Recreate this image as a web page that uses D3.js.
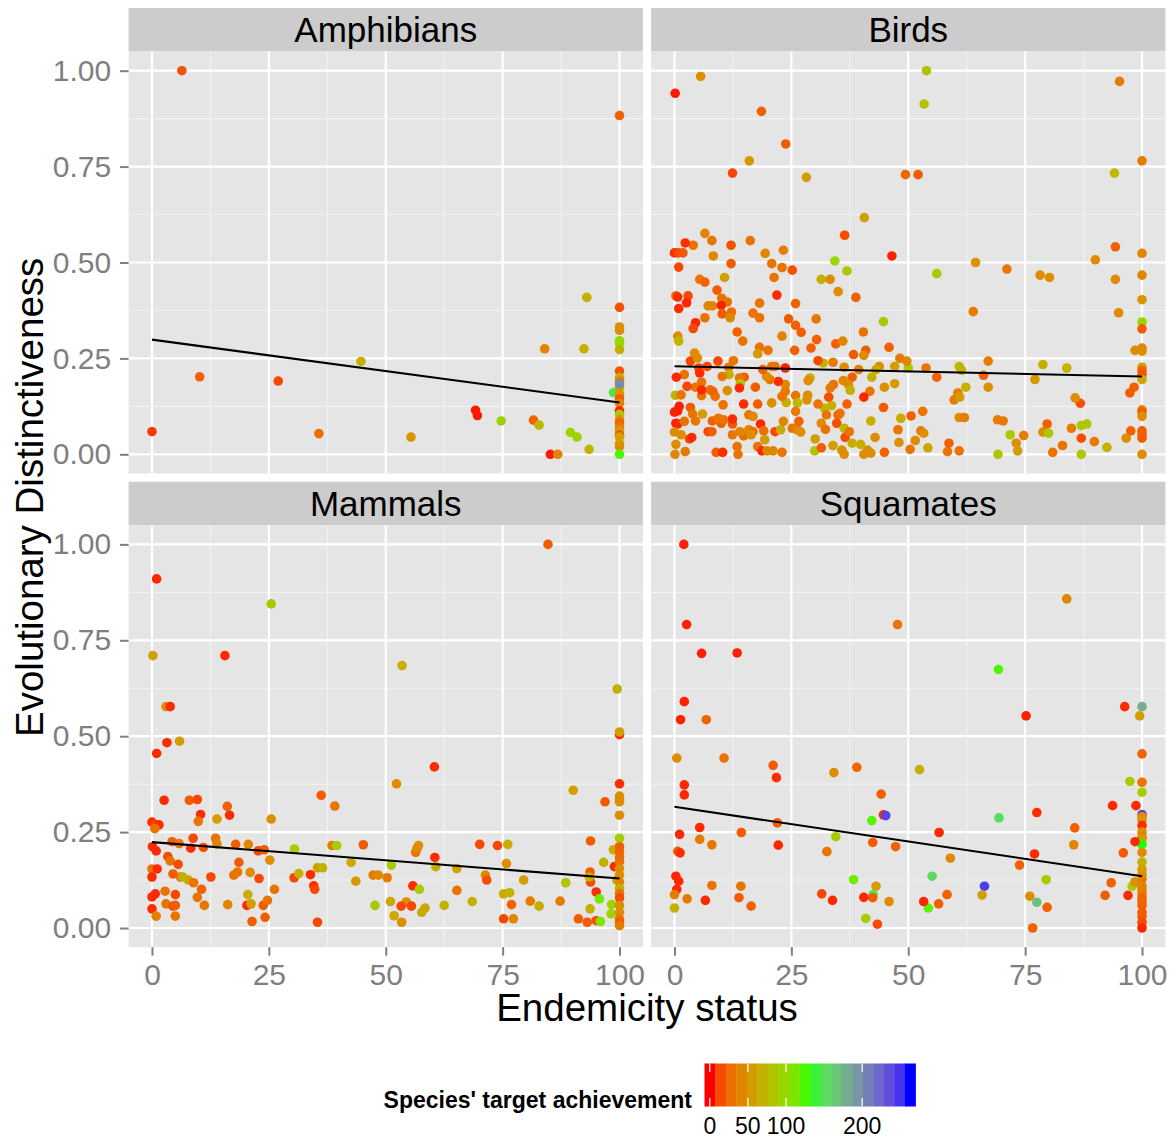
<!DOCTYPE html>
<html>
<head>
<meta charset="utf-8">
<script src="https://cdn.jsdelivr.net/npm/d3@7"></script>
<style>
  body { margin: 0; background: #ffffff; }
  svg text { font-family: "Liberation Sans", Arial, Helvetica, sans-serif; }
</style>
</head>
<body>
<svg id="chart" width="1176" height="1139"></svg>
<script>
// Facet names, in panel order (row by row)
const taxa = ["Amphibians", "Birds", "Mammals", "Squamates"];

// Each species: [endemicity status, evolutionary distinctiveness, target achievement]
const amphibians = [
  [0,0.059,8],[6.4,1.0,15],[10.2,0.202,22],[27,0.191,12],[35.7,0.054,28],[44.7,0.242,68],[55.4,0.045,50],
  [69.2,0.115,2],[69.6,0.101,2],[74.7,0.087,95],[81.6,0.089,22],[82.8,0.076,75],[84,0.275,40],[85.2,0,2],
  [86.8,0,40],[89.5,0.057,95],[90.9,0.045,95],[92.4,0.275,68],[93,0.409,68],[93.5,0.013,72],[98.7,0.161,145],
  [100,0.883,22],[100,0.383,15],[100,0.332,45],[100,0.323,45],[100,0.296,100],[100,0.289,100],[100,0.273,70],
  [100,0.217,18],[100,0.2,65],[100,0.19,30],[100,0.175,60],[100,0.158,50],[100,0.145,20],[100,0.133,40],
  [100,0.113,3],[100,0.104,85],[100,0.09,45],[100,0.082,25],[100,0.07,35],[100,0.061,55],[100,0.05,15],
  [100,0.045,60],[100,0.028,55],[100,0.02,45],[100,0.183,200],[100,0,125]
];

const birds = [
  [0.15,0.941,2],[5.6,0.985,45],[18.6,0.894,22],[23.8,0.809,20],[16,0.765,52],[12.4,0.733,12],[28.2,0.722,55],
  [40.6,0.617,58],[36.4,0.571,14],[49.4,0.729,25],[52.1,0.729,20],[53.9,1.0,82],[53.4,0.913,82],[95.2,0.972,35],
  [100,0.765,35],[94.1,0.733,75],
  [6.5,0.576,40],[8,0.557,32],[4,0.545,30],[2.3,0.551,6],[0,0.525,5],[0.8,0.525,12],[1.8,0.525,18],[12.1,0.545,15],
  [16.2,0.557,30],[0.9,0.488,12],[8.3,0.517,42],[12.1,0.497,20],[19.4,0.524,42],[20.8,0.497,30],[23.3,0.532,38],
  [23,0.487,30],[25.2,0.48,15],[21.3,0.461,32],[10.7,0.461,58],[5.4,0.456,32],[6.5,0.449,22],[0.3,0.413,28],
  [0.7,0.41,5],[2.9,0.413,12],[2.6,0.395,4],[0.9,0.38,5],[9.1,0.428,20],[10.1,0.407,30],[11.3,0.397,32],
  [7.2,0.387,42],[8.1,0.387,42],[10,0.388,3],[10.2,0.366,20],[12.2,0.371,28],[11.9,0.356,42],[6.5,0.356,30],
  [4.5,0.343,4],[4,0.328,12],[0.7,0.308,45],[0.9,0.295,72],[21.9,0.415,5],[18.2,0.394,30],[16.8,0.368,32],
  [18.2,0.356,30],[13.4,0.319,22],[14.6,0.295,30],[18.2,0.279,30],[20,0.271,32],[23,0.308,40],[24.4,0.353,20],
  [25.9,0.336,22],[27.1,0.318,20],[25.9,0.393,22],[30.3,0.353,32],[25.7,0.271,22],[30.4,0.299,22],[29.2,0.277,22],
  [31.4,0.456,68],[33.3,0.456,45],[34.3,0.504,100],[36.9,0.478,85],[35,0.424,45],[38.8,0.409,22],[40.4,0.319,30],
  [34.5,0.288,22],[36,0.295,42],[38.3,0.26,20],[40.9,0.271,20],[40.5,0.258,45],[46.5,0.517,3],[44.7,0.346,85],
  [45.9,0.279,22],[56.1,0.471,85],[64.4,0.5,48],[63.9,0.372,35],[71.1,0.483,32],[78.2,0.467,45],[80.2,0.461,45],
  [90,0.507,45],[94.3,0.541,22],[94.3,0.456,45],[95,0.369,45],
  [100,0.524,40],[100,0.467,42],[100,0.403,52],[100,0.345,100],[100,0.327,20],[100,0.277,42],[100,0.269,45],
  [100,0.227,58],[100,0.218,22],[100,0.208,15],[100,0.195,60],[100,0.116,45],[100,0.11,20],[100,0.099,45],
  [100,0.061,20],[100,0.051,22],[100,0.042,20],[100,0,45],
  [98.5,0.271,45],[98.3,0.175,22],[97.4,0.16,20],[86.8,0.133,15],[85.7,0.147,45],[77.1,0.195,52],[78.8,0.234,68],
  [83.9,0.225,70],[67.1,0.243,35],[66.1,0.206,22],[67.1,0.175,48],[60.9,0.229,75],[61.4,0.219,72],[62.3,0.175,70],
  [60.6,0.16,35],[59.8,0.142,35],[61,0.149,55],[56.1,0.201,22],[53.8,0.225,32],[50,0.225,85],[49.7,0.243,42],
  [48.2,0.25,35],[47.1,0.229,55],[47.1,0.184,55],[44.9,0.175,45],[44.7,0.122,20],[43.8,0.229,45],[43.1,0.221,65],
  [42.2,0.201,70],[41.8,0.164,32],[40.5,0.149,4],[39.4,0.221,35],[38,0.201,22],[37.2,0.182,45],[37.6,0.167,68],
  [36.3,0.227,45],[36.1,0.192,42],[34,0.182,32],[33.3,0.173,35],[33.9,0.24,35],[31.8,0.238,70],[30.7,0.244,12],
  [33,0.149,14],[33.6,0.127,70],[32.1,0.12,72],[30.7,0.131,32],[29,0.199,70],[28.6,0.192,45],[28.5,0.154,45],
  [28.3,0.142,48],[25.9,0.153,32],[26.3,0.134,75],[25.9,0.112,35],[23.9,0.135,68],[23.7,0.182,42],[23.7,0.164,35],
  [23,0.151,32],[22.2,0.19,5],[20.4,0.195,32],[19.7,0.203,45],[20.8,0.229,32],[21.5,0.229,30],[23.7,0.225,3],
  [18.9,0.221,22],[17.8,0.262,55],[20.8,0.134,45],[17.8,0.131,20],[17.3,0.175,20],[14.9,0.201,20],[13.9,0.199,30],
  [14.1,0.184,85],[13.9,0.173,4],[14.8,0.131,5],[12.6,0.244,32],[11.6,0.227,32],[11.7,0.208,68],[10.2,0.203,32],
  [11.3,0.166,45],[10.4,0.129,32],[9.3,0.243,12],[7,0.229,12],[5.2,0.225,12],[5.4,0.212,5],[3.4,0.243,12],
  [4.3,0.264,45],[4.9,0.251,45],[2.1,0.208,32],[0.4,0.201,4],[5.8,0.188,32],[4.5,0.175,32],[2.7,0.177,12],
  [0.2,0.154,72],[1.4,0.155,32],[5.8,0.153,32],[7.6,0.168,32],[8.7,0.151,32],[8.2,0.164,22],[5.8,0.168,4],
  [1,0.125,3],[0.7,0.113,3],[0,0.11,3],[3.4,0.122,20],[3.9,0.105,32],[4.5,0.087,32],[6,0.105,55],[0.3,0.081,3],
  [0.7,0.079,4],[2.1,0.086,30],[0,0.058,45],[1.4,0.051,45],[3.2,0.04,12],[3.7,0.044,5],[0.3,0.026,45],[0.1,0,40],
  [2.3,0.007,35],[8.9,0.005,22],[10.3,0.005,5],[13.6,0,32],[13.4,0.02,32],[14.8,0.048,32],[14,0.059,42],
  [12.4,0.051,32],[12.4,0.079,20],[10,0.081,20],[8.1,0.087,22],[9.4,0.094,32],[10.5,0.09,32],[7.2,0.059,12],
  [8,0.059,20],[12.4,0.092,5],[15.9,0.103,32],[16.8,0.099,42],[15.9,0.064,42],[16.8,0.059,32],[16.4,0.051,45],
  [18.4,0.079,4],[19.1,0.061,32],[19.3,0.038,55],[17.8,0.02,32],[18.7,0.009,4],[19.8,0.009,42],[21.1,0.009,42],
  [23,0.005,32],[21.5,0.059,12],[22.7,0.064,65],[23.3,0.086,42],[25.2,0.068,32],[26.3,0.064,42],[27,0.058,45],
  [26.6,0.086,22],[30.1,0.04,55],[30,0.009,85],[31.4,0.017,20],[31.4,0.081,45],[32.3,0.065,32],[32.5,0.103,32],
  [34.7,0.081,14],[35,0.103,22],[35.4,0.107,30],[36.3,0.068,75],[36.5,0.044,14],[37.4,0.059,32],[36.9,0.131,22],
  [33.9,0.023,55],[35.8,0.011,45],[36.3,0,45],[38,0.029,68],[39.8,0.026,68],[41.3,0.011,45],[40.5,0,45],
  [42,0.003,45],[42,0.087,68],[42.9,0.044,45],[44.9,0.005,22],[47.8,0.064,32],[48,0.031,45],[48.4,0.094,65],
  [50.4,0.013,32],[50.6,0.1,22],[51.5,0.036,45],[52.7,0.061,35],[53.3,0.055,45],[53.1,0.112,32],[54.2,0.017,62],
  [58.4,0.007,32],[58.7,0.029,22],[60.9,0.009,32],[60.9,0.096,45],[62,0.096,35],[69.2,0,85],[69.1,0.09,35],
  [70.3,0.087,35],[71.8,0.051,85],[73.1,0.029,45],[73.4,0.009,55],[74.7,0.049,35],[78.8,0.058,45],[79.7,0.079,22],
  [80,0.055,85],[80.9,0.005,32],[83,0.023,32],[84.9,0.068,35],[87,0.075,85],[88.2,0.079,85],[87,0.042,14],
  [87,0,85],[89.8,0.033,35],[92.5,0.018,70],[96.6,0.042,45],[97.6,0.061,22]
];

const mammals = [
  [1,0.91,4],[25.5,0.845,85],[84.7,1.0,20],[0.2,0.71,58],[15.6,0.71,5],[53.5,0.684,68],[99.5,0.623,70],
  [3,0.577,45],[3.9,0.577,5],[3.2,0.483,5],[5.9,0.487,55],[1,0.455,5],[100,0.504,5],[100,0.511,58],
  [60.4,0.42,5],[52.3,0.376,45],[90.1,0.359,58],[100,0.376,5],[96.9,0.329,18],[100,0.344,45],[100,0.335,45],
  [100,0.329,45],[100,0.294,45],[2.6,0.333,5],[8,0.333,20],[9.7,0.335,12],[10.4,0.296,5],[9.9,0.278,32],
  [16.1,0.317,22],[16.6,0.294,5],[13.9,0.284,55],[0,0.276,5],[0.7,0.269,12],[1.5,0.269,5],[0.6,0.259,32],
  [36.2,0.346,20],[39.1,0.318,32],[25.5,0.284,45],[13.6,0.234,30],[13.9,0.219,42],[8.8,0.234,12],[8.3,0.208,5],
  [11,0.21,14],[4.3,0.225,22],[5.8,0.22,30],[0.1,0.212,5],[0.9,0.201,5],[3.4,0.186,12],[3.9,0.175,32],
  [5.6,0.166,14],[0,0.154,30],[1.1,0.154,5],[0,0.133,5],[4.5,0.141,20],[6.1,0.133,30],[6.6,0.133,68],
  [7.8,0.125,65],[8.9,0.118,32],[10.6,0.101,22],[9.7,0.08,32],[2.8,0.096,30],[0.7,0.089,5],[0,0.081,5],
  [5,0.087,12],[3,0.063,32],[4.5,0.057,14],[5,0.059,20],[0,0.05,5],[0.9,0.031,38],[5,0.031,32],[11.2,0.059,32],
  [12.6,0.133,12],[17.9,0.218,20],[18.6,0.171,20],[18.3,0.146,32],[17.5,0.138,30],[16.2,0.061,42],[20.6,0.218,42],
  [21,0.145,45],[20.5,0.087,68],[20.3,0.059,5],[21.2,0.063,55],[21.4,0.017,20],[22.7,0.201,12],[22.9,0.129,12],
  [24,0.204,20],[25.2,0.177,45],[24.2,0.028,20],[23.8,0.059,20],[24.7,0.072,30],[26.2,0.101,30],[30.5,0.206,90],
  [30.4,0.131,12],[31.4,0.142,68],[33.9,0.139,5],[34.6,0.11,5],[34.8,0.101,12],[35.4,0.015,12],[35.4,0.157,55],
  [36.5,0.157,70],[38.5,0.215,35],[39.5,0.215,90],[42.6,0.171,65],[43.6,0.122,52],[45.2,0.217,20],[47.7,0.059,88],
  [47.3,0.138,35],[48.4,0.138,42],[50.3,0.131,35],[51.2,0.164,88],[51,0.069,62],[51.8,0.032,62],[53.4,0.015,45],
  [54.4,0.068,45],[53.3,0.057,12],[55.5,0.057,12],[55.8,0.11,5],[57.2,0.101,90],[56.4,0.197,32],[56.7,0.208,42],
  [57,0.215,45],[57.7,0.041,65],[58.4,0.052,62],[60.5,0.184,5],[60.7,0.16,68],[62.5,0.059,70],[65.2,0.155,58],
  [65.2,0.098,32],[68.5,0.069,70],[70.1,0.218,12],[71.3,0.138,42],[71.6,0.125,14],[73.9,0.215,12],[76.1,0.218,65],
  [75.8,0.168,45],[75.2,0.089,65],[76.5,0.092,70],[75.2,0.024,12],[77.3,0.024,42],[76.9,0.061,22],[79.5,0.125,55],
  [80.9,0.07,35],[82.8,0.057,65],[87.3,0.07,35],[88.5,0.118,85],[91.2,0.024,20],[93.1,0.015,20],[95,0.019,14],
  [95.9,0.017,110],[93.7,0.05,68],[93.8,0.12,14],[93.7,0.146,20],[93.5,0.133,68],[95,0.094,5],[95.7,0.076,115],
  [93.8,0.227,20],[96.6,0.171,70],[98.7,0.204,68],[98.9,0.16,5],[98.3,0.061,95],[98.2,0.037,95],[99.4,0.125,70],
  [100,0.234,90],[100,0.212,20],[100,0.199,22],[100,0.185,25],[100,0.173,30],[100,0.155,45],[100,0.138,45],
  [100,0.12,40],[100,0.103,68],[100,0.09,30],[100,0.078,14],[100,0.059,45],[100,0.041,45],[100,0.024,32],
  [100,0.015,20],[100,0.006,35]
];

const squamates = [
  [2,1.0,3],[2.6,0.791,3],[5.8,0.716,3],[13.4,0.717,3],[47.7,0.791,32],[83.9,0.858,42],[69.3,0.674,125],
  [96.3,0.577,5],[100,0.577,180],[99.5,0.553,58],[75.2,0.553,3],[2.1,0.59,3],[1.3,0.543,3],[6.8,0.543,22],
  [0.5,0.443,45],[10.6,0.443,30],[100,0.454,22],
  [21.1,0.424,20],[21.8,0.392,5],[34.1,0.405,45],[39,0.419,22],[52.4,0.413,68],[2.1,0.373,4],[2.1,0.347,4],
  [44.2,0.349,22],[97.4,0.382,90],[100,0.38,32],[100,0.354,90],[93.7,0.319,5],[98.7,0.319,5],[77.5,0.301,5],
  [69.4,0.287,150],[42.2,0.28,122],[44.7,0.295,4],[45.2,0.293,240],[100,0.296,240],
  [100,0.29,45],[100,0.281,48],[100,0.267,5],[100,0.25,45],[100,0.238,35],[100,0.232,55],[100,0.218,130],
  [100,0.197,45],[100,0.172,70],[100,0.153,55],[100,0.14,50],[100,0.127,35],[100,0.109,40],[100,0.1,38],
  [100,0.089,35],[100,0.078,22],[100,0.07,25],[100,0.059,22],[100,0.041,20],[100,0.03,20],[100,0.015,14],[100,0,4],
  [98.5,0.225,5],[96,0.196,20],[97.9,0.109,90],[98.5,0.12,45],[93.4,0.118,22],[92.1,0.085,20],[97,0.085,5],
  [85.6,0.261,22],[85.4,0.217,42],[77,0.193,5],[73.8,0.164,22],[79.5,0.126,88],[76,0.083,45],[77.5,0.067,170],
  [79.7,0.054,22],[76.6,0,22],[66.3,0.109,245],[65.8,0.086,58],[59,0.182,42],[56.6,0.249,4],[58.3,0.087,22],
  [56.5,0.063,20],[55.1,0.135,155],[54.3,0.052,120],[53.3,0.069,4],[47.3,0.212,22],[45.9,0.069,45],[43.1,0.109,55],
  [42.4,0.223,20],[42.5,0.087,150],[42.4,0.079,20],[40.5,0.08,4],[40.9,0.025,90],[43.4,0.01,12],[38.3,0.126,115],
  [33.8,0.072,4],[31.5,0.089,12],[32.6,0.199,32],[34.5,0.238,88],[22.2,0.216,4],[22,0.274,20],[16.4,0.057,22],
  [13.8,0.079,20],[14.2,0.109,32],[14.3,0.249,20],[8,0.111,32],[6.6,0.072,4],[2.7,0.076,35],[8,0.217,32],
  [5.4,0.231,35],[5.4,0.262,4],[1.1,0.244,4],[0.7,0.2,20],[1.2,0.196,5],[0.3,0.135,4],[0.9,0.122,4],
  [0.5,0.101,4],[0,0.087,35],[0,0.052,70]
];

// Linear fit per taxon: predicted distinctiveness at endemicity 0 and 100
const fitAtZero = [0.299, 0.2295, 0.224, 0.316];
const fitAtHundred = [0.135, 0.203, 0.129, 0.135];

// Axis breaks
const xTicks = [0, 25, 50, 75, 100];
const xMinor = [12.5, 37.5, 62.5, 87.5];
const yTicks = [0, 0.25, 0.5, 0.75, 1];
const yMinor = [0.125, 0.375, 0.625, 0.875];

// Colour bar
const colourBreaks = [0, 50, 100, 200];
const colourLimits = [0, 263];
const colourStops = ["#FF0000", "#00FF00", "#0000FF"];

const panelData = [amphibians, birds, mammals, squamates];

// ---------- layout ----------
const svg = d3.select("#chart");
const plotLeft = 128.6, plotRight = 1165.4, panelGap = 8.2;
const stripH = 43.5, panelH = 422, plotTop = 8;
const panelW = (plotRight - plotLeft - panelGap) / 2;
const plotBottom = plotTop + 2 * (stripH + panelH) + panelGap;
const tickColour = "#7F7F7F";
const tickFont = 30;

const x = d3.scaleLinear().domain([-5, 105]).range([0, panelW]);
const y = d3.scaleLinear().domain([-0.05, 1.05]).range([panelH, 0]);
const colour = d3.scaleLinear()
  .domain([colourLimits[0], (colourLimits[0] + colourLimits[1]) / 2, colourLimits[1]])
  .range(colourStops)
  .interpolate(d3.interpolateLab);

svg.append("rect").attr("width", 1176).attr("height", 1139).attr("fill", "#ffffff");

taxa.forEach((name, i) => {
  const col = i % 2, row = Math.floor(i / 2);
  const px = plotLeft + col * (panelW + panelGap);
  const sy = plotTop + row * (stripH + panelH + panelGap);
  const py = sy + stripH;

  // facet strip
  svg.append("rect")
    .attr("x", px).attr("y", sy).attr("width", panelW).attr("height", stripH)
    .attr("fill", "#CCCCCC");
  svg.append("text")
    .attr("x", px + panelW / 2).attr("y", sy + stripH / 2 + 12.5)
    .attr("text-anchor", "middle")
    .attr("font-size", 35).attr("fill", "#000")
    .text(name);

  const g = svg.append("g").attr("transform", `translate(${px},${py})`);
  g.append("rect").attr("width", panelW).attr("height", panelH).attr("fill", "#E5E5E5");

  // minor grid
  g.selectAll(".vminor").data(xMinor).join("line")
    .attr("x1", d => x(d)).attr("x2", d => x(d)).attr("y1", 0).attr("y2", panelH)
    .attr("stroke", "#F2F2F2").attr("stroke-width", 1.1);
  g.selectAll(".hminor").data(yMinor).join("line")
    .attr("y1", d => y(d)).attr("y2", d => y(d)).attr("x1", 0).attr("x2", panelW)
    .attr("stroke", "#F2F2F2").attr("stroke-width", 1.1);
  // major grid
  g.selectAll(".vmajor").data(xTicks).join("line")
    .attr("x1", d => x(d)).attr("x2", d => x(d)).attr("y1", 0).attr("y2", panelH)
    .attr("stroke", "#FFFFFF").attr("stroke-width", 2.2);
  g.selectAll(".hmajor").data(yTicks).join("line")
    .attr("y1", d => y(d)).attr("y2", d => y(d)).attr("x1", 0).attr("x2", panelW)
    .attr("stroke", "#FFFFFF").attr("stroke-width", 2.2);

  // species points
  g.selectAll(".pt").data(panelData[i]).join("circle")
    .attr("cx", d => x(d[0])).attr("cy", d => y(d[1])).attr("r", 4.8)
    .attr("fill", d => colour(d[2]));

  // fitted line
  g.append("line")
    .attr("x1", x(0)).attr("y1", y(fitAtZero[i]))
    .attr("x2", x(100)).attr("y2", y(fitAtHundred[i]))
    .attr("stroke", "#000").attr("stroke-width", 2.1);

  // axes on outer panels only
  if (col === 0) {
    const ay = g.append("g").call(
      d3.axisLeft(y).tickValues(yTicks).tickFormat(d3.format(".2f")).tickSize(8.5).tickPadding(9));
    ay.select(".domain").remove();
    ay.selectAll("line").attr("stroke", tickColour).attr("stroke-width", 2);
    ay.selectAll("text").attr("fill", tickColour).attr("font-size", tickFont)
      .attr("font-family", '"Liberation Sans", Arial, sans-serif');
  }
  if (row === 1) {
    const ax = g.append("g").attr("transform", `translate(0,${panelH})`).call(
      d3.axisBottom(x).tickValues(xTicks).tickFormat(d3.format("d")).tickSize(8.5).tickPadding(8));
    ax.select(".domain").remove();
    ax.selectAll("line").attr("stroke", tickColour).attr("stroke-width", 2);
    ax.selectAll("text").attr("fill", tickColour).attr("font-size", tickFont)
      .attr("font-family", '"Liberation Sans", Arial, sans-serif');
  }
});

// axis titles
svg.append("text")
  .attr("x", (plotLeft + plotRight) / 2).attr("y", 1021)
  .attr("text-anchor", "middle").attr("font-size", 38.5).attr("fill", "#000")
  .text("Endemicity status");
svg.append("text")
  .attr("transform", `translate(43,${(plotTop + stripH + plotBottom) / 2 - 2}) rotate(-90)`)
  .attr("text-anchor", "middle").attr("font-size", 38.5).attr("fill", "#000")
  .text("Evolutionary Distinctiveness");

// ---------- colour bar legend ----------
const nbin = 20;
const barX = 704.5, barY = 1063.5, barW = 211, barH = 43;
const binW = barW / nbin;
const legend = svg.append("g");
legend.selectAll("rect").data(d3.range(nbin)).join("rect")
  .attr("x", k => barX + k * binW).attr("y", barY)
  .attr("width", binW + 0.4).attr("height", barH)
  .attr("fill", k => colour(colourLimits[0] + k * (colourLimits[1] - colourLimits[0]) / (nbin - 1)));

const barPos = d3.scaleLinear().domain(colourLimits)
  .range([barX + 0.5 * binW, barX + (nbin - 0.5) * binW]);
colourBreaks.forEach(b => {
  const bx = barPos(b);
  legend.append("line").attr("x1", bx).attr("x2", bx).attr("y1", barY).attr("y2", barY + barH / 5)
    .attr("stroke", "#fff").attr("stroke-width", 1.2);
  legend.append("line").attr("x1", bx).attr("x2", bx).attr("y1", barY + barH * 4 / 5).attr("y2", barY + barH)
    .attr("stroke", "#fff").attr("stroke-width", 1.2);
  legend.append("text").attr("x", bx).attr("y", 1134)
    .attr("text-anchor", "middle").attr("font-size", 23).attr("fill", "#000")
    .text(b);
});
legend.append("text")
  .attr("x", 692).attr("y", 1108)
  .attr("text-anchor", "end").attr("font-size", 23).attr("font-weight", "bold").attr("fill", "#000")
  .text("Species' target achievement");
</script>
</body>
</html>
